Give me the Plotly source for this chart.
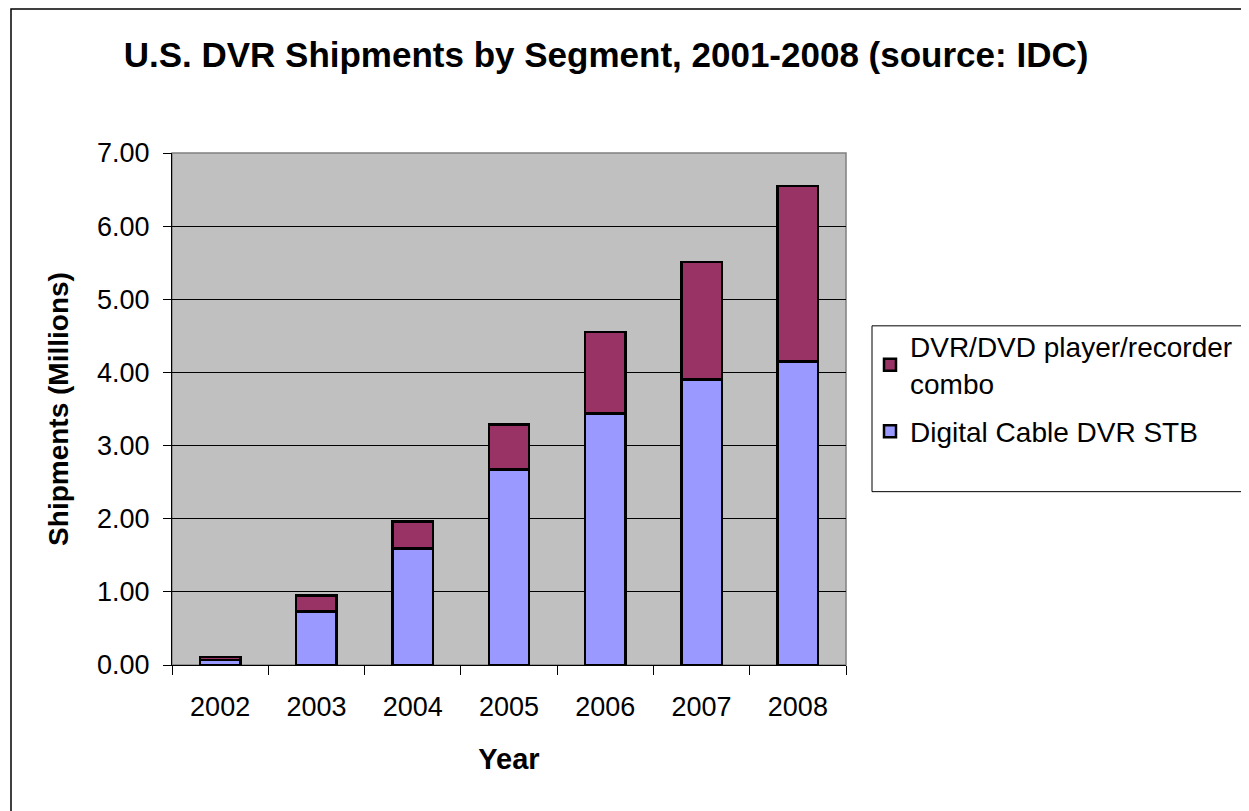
import plotly.graph_objects as go

years = ["2002", "2003", "2004", "2005", "2006", "2007", "2008"]
stb = [0.07, 0.73, 1.59, 2.67, 3.44, 3.90, 4.15]
combo = [0.04, 0.22, 0.37, 0.62, 1.11, 1.61, 2.40]
y_ticks = [0, 1, 2, 3, 4, 5, 6, 7]
y_tick_text = ["0.00", "1.00", "2.00", "3.00", "4.00", "5.00", "6.00", "7.00"]

FONT = "Liberation Sans, Arial, sans-serif"

# page has an 8px body margin; size the figure so it fits the window
OFF = 8
W, H = 1249 - OFF, 811 - OFF
# plot area in reference pixels
PX0, PX1, PY0, PY1 = 172, 846, 153, 665.5
L, T = PX0 - OFF, PY0 - OFF
R, B = W - (PX1 - OFF), H - (PY1 - OFF)
pw, ph = PX1 - PX0, PY1 - PY0


def px_x(p):
    return (p - PX0) / pw


def px_y(p):
    return (PY1 - p) / ph


fig = go.Figure()
fig.add_trace(go.Bar(
    x=years, y=stb, name="Digital Cable DVR STB", legendgroup="stb", legendrank=2,
    marker=dict(color="#9999FF", line=dict(color="black", width=2.5)),
))
fig.add_trace(go.Bar(
    x=years, y=combo, name="DVR/DVD player/recorder<br>combo", legendgroup="combo", legendrank=1,
    marker=dict(color="#993366", line=dict(color="black", width=2.5)),
))

fig.update_layout(
    width=W, height=H,
    margin=dict(l=L, r=R, t=T, b=B, autoexpand=False),
    barmode="stack",
    bargap=0.58,
    paper_bgcolor="white",
    plot_bgcolor="#C0C0C0",
    font=dict(family=FONT, size=27, color="black"),
    title=dict(
        text="<b>U.S. DVR Shipments by Segment, 2001-2008 (source: IDC)</b>",
        x=(606 - OFF) / W, xanchor="center", xref="container",
        y=1 - (55 - OFF) / H, yanchor="middle", yref="container",
        font=dict(family=FONT, size=35, color="black"),
    ),
    legend=dict(
        x=px_x(870), xanchor="left",
        y=px_y(322), yanchor="top",
        traceorder="grouped",
        bgcolor="rgba(0,0,0,0)",
        borderwidth=0,
        font=dict(family=FONT, size=28, color="black"),
        tracegroupgap=9,
    ),
    xaxis=dict(
        showline=True, linecolor="black", linewidth=1,
        ticks="outside", ticklen=9, tickcolor="black",
        tickson="boundaries",
        ticklabelstandoff=18,
        tickfont=dict(family=FONT, size=27),
        title=dict(text="<b>Year</b>", font=dict(family=FONT, size=29), standoff=27),
        showgrid=False,
    ),
    yaxis=dict(
        range=[0, 7],
        tickvals=y_ticks, ticktext=y_tick_text,
        showline=True, linecolor="black", linewidth=1,
        ticks="outside", ticklen=8, tickcolor="black",
        ticklabelstandoff=8,
        tickfont=dict(family=FONT, size=27),
        showgrid=True, gridcolor="black", gridwidth=1,
        zeroline=False,
        title=dict(text="<b>Shipments (Millions)</b>", font=dict(family=FONT, size=28), standoff=20),
    ),
    shapes=[
        # outer chart border
        dict(type="rect", xref="paper", yref="paper",
             x0=px_x(11), x1=px_x(1270), y0=px_y(OFF + 0.8), y1=px_y(830),
             line=dict(color="black", width=1.5), fillcolor="rgba(0,0,0,0)", layer="below"),
        # plot area border
        dict(type="rect", xref="paper", yref="paper",
             x0=0, x1=1, y0=0, y1=1,
             line=dict(color="#808080", width=1.5), fillcolor="rgba(0,0,0,0)", layer="below"),
        # legend box
        dict(type="rect", xref="paper", yref="paper",
             x0=px_x(872), x1=px_x(1248), y0=px_y(326), y1=px_y(492),
             line=dict(color="black", width=1), fillcolor="white", layer="below"),
    ],
)

fig.write_html("out.html")
